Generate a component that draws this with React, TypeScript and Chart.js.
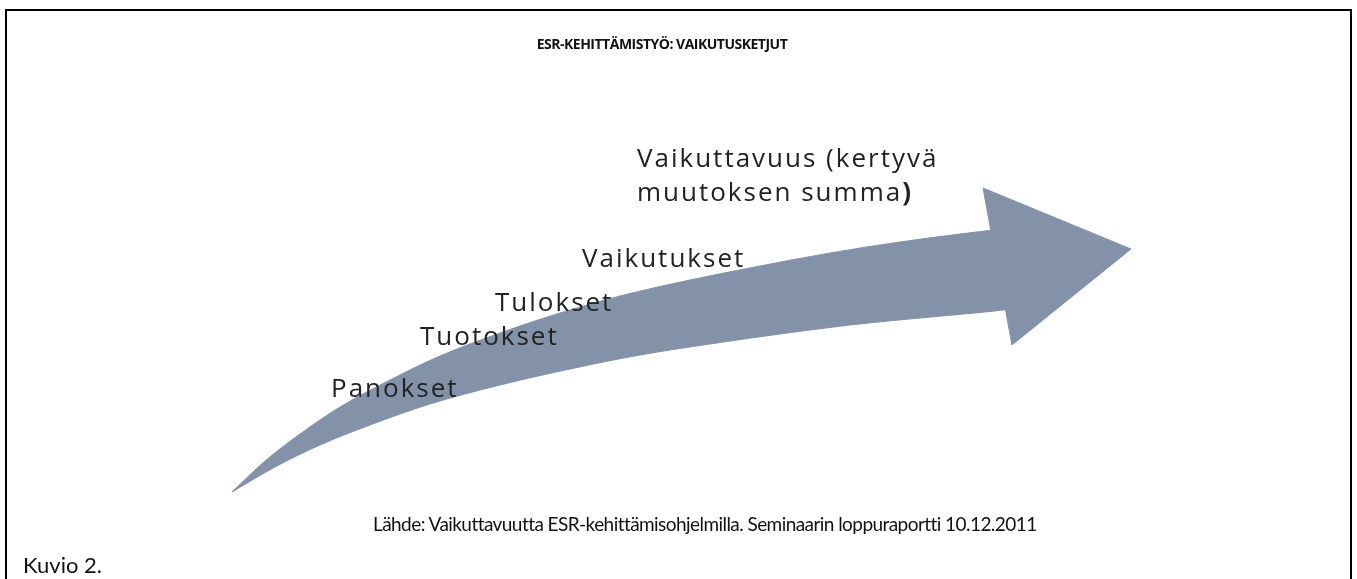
import React, { useEffect, useRef } from "react";
import { Chart, registerables } from "chart.js";

Chart.register(...registerables);

// Outline of the curved arrow body (page pixels)
const upperEdgeX = [232, 265, 300, 340, 390, 440, 500, 560, 620, 690, 760, 830, 900, 960, 1010];
const upperEdgeY = [492, 461, 434, 407, 380, 356, 333, 313, 296, 280, 266, 253, 242, 234, 228];
const lowerEdgeX = [232, 275, 320, 370, 430, 500, 570, 640, 710, 780, 850, 920, 985, 1030];
const lowerEdgeY = [492, 467, 445, 425, 404, 385, 369, 355, 344, 334, 325, 318, 312, 307];
// Arrow head triangle
const headX = [983, 1131, 1012, 983];
const headY = [188, 249, 345, 188];

const stageLabels = ["Panokset", "Tuotokset", "Tulokset", "Vaikutukset"];
const finalLabelLine1 = "Vaikuttavuus (kertyvä";
const finalLabelLine2 = "muutoksen summa";
const titleText = "ESR-KEHITTÄMISTYÖ: VAIKUTUSKETJUT";
const sourceText = "Lähde: Vaikuttavuutta ESR-kehittämisohjelmilla. Seminaarin loppuraportti 10.12.2011";
const captionText = "Kuvio 2.";

const W = 1357;
const H = 579;
const ARROW = "rgb(131,146,168)";

const stagePos = [
  { left: 331, top: 374 },
  { left: 420, top: 322 },
  { left: 495, top: 288 },
  { left: 582, top: 244 },
];

const labelFont: React.CSSProperties = {
  position: "absolute",
  fontFamily: "'Open Sans', sans-serif",
  fontSize: 26,
  lineHeight: "26px",
  letterSpacing: "2px",
  color: "#222",
  whiteSpace: "nowrap",
};

export default function App() {
  const ref = useRef<HTMLCanvasElement>(null);

  useEffect(() => {
    const toPts = (xs: number[], ys: number[]) => xs.map((x, i) => ({ x, y: ys[i] }));
    const chart = new Chart(ref.current!, {
      type: "scatter",
      data: {
        datasets: [
          {
            data: toPts(upperEdgeX, upperEdgeY),
            showLine: true,
            fill: "+1",
            backgroundColor: ARROW,
            borderColor: ARROW,
            borderWidth: 1,
            pointRadius: 0,
            cubicInterpolationMode: "monotone",
          },
          {
            data: toPts(lowerEdgeX, lowerEdgeY),
            showLine: true,
            fill: false,
            backgroundColor: ARROW,
            borderColor: ARROW,
            borderWidth: 1,
            pointRadius: 0,
            cubicInterpolationMode: "monotone",
          },
          {
            data: toPts(headX, headY),
            showLine: true,
            fill: "shape",
            backgroundColor: ARROW,
            borderColor: ARROW,
            borderWidth: 1,
            pointRadius: 0,
            tension: 0,
          },
        ],
      } as any,
      options: {
        responsive: false,
        animation: false,
        events: [],
        layout: { padding: 0 },
        plugins: {
          legend: { display: false },
          tooltip: { enabled: false },
          title: { display: false },
        },
        scales: {
          x: { type: "linear", display: false, min: 0, max: W },
          y: { type: "linear", display: false, min: 0, max: H, reverse: true },
        },
      },
    });
    return () => chart.destroy();
  }, []);

  return (
    <div
      style={{
        position: "absolute",
        left: 0,
        top: 0,
        width: W,
        height: H,
        overflow: "hidden",
        background: "#fff",
      }}
    >
      <div
        style={{
          position: "absolute",
          left: 5,
          top: 9,
          width: 1343,
          height: 620,
          border: "2px solid #000",
        }}
      />
      <canvas
        ref={ref}
        width={W}
        height={H}
        style={{ position: "absolute", left: 0, top: 0, width: W, height: H, display: "block" }}
      />
      <div
        style={{
          position: "absolute",
          left: 0,
          width: 1324,
          top: 35,
          textAlign: "center",
          fontFamily: "'Open Sans', sans-serif",
          fontWeight: 700,
          fontSize: 14,
          lineHeight: "17px",
          letterSpacing: "-0.5px",
          color: "#111",
        }}
      >
        {titleText}
      </div>
      <div style={{ ...labelFont, left: 637, top: 144 }}>{finalLabelLine1}</div>
      <div style={{ ...labelFont, left: 637, top: 178 }}>
        {finalLabelLine2}
        <b>)</b>
      </div>
      {stageLabels.map((t, i) => (
        <div key={t} style={{ ...labelFont, left: stagePos[i].left, top: stagePos[i].top }}>
          {t}
        </div>
      ))}
      <div
        style={{
          position: "absolute",
          left: 373,
          top: 513,
          fontFamily: "Lato, sans-serif",
          fontSize: 19,
          lineHeight: "22px",
          letterSpacing: "-0.56px",
          color: "#111",
          whiteSpace: "nowrap",
        }}
      >
        {sourceText}
      </div>
      <div
        style={{
          position: "absolute",
          left: 23,
          top: 552,
          fontFamily: "Lato, sans-serif",
          fontSize: 22,
          lineHeight: "25px",
          color: "#111",
          whiteSpace: "nowrap",
        }}
      >
        {captionText}
      </div>
    </div>
  );
}
